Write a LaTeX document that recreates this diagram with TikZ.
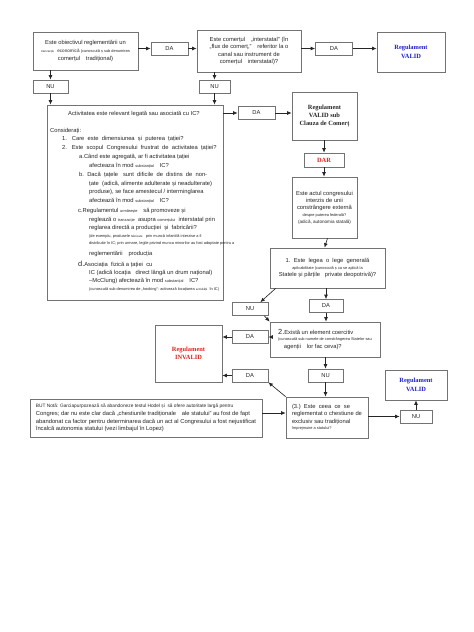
\documentclass[tikz,border=0pt]{standalone}
\usepackage{fontspec}
\setmainfont{Liberation Sans}
\newfontfamily\serifb{Liberation Serif}
\usetikzlibrary{arrows.meta}
\newcommand\smt{\fontsize{3.9}{4.8}\selectfont}
\newcommand\tnt{\fontsize{3}{3.8}\selectfont}
\definecolor{regblue}{RGB}{30,30,200}
\definecolor{regred}{RGB}{225,30,30}
\begin{document}
\begin{tikzpicture}[x=1pt,y=-1pt,
  base/.style={font=\fontsize{5.8}{8.8}\selectfont, text=black!85},
  box/.style={draw=black!55, line width=0.65pt, fill=white, inner sep=1pt, align=center, base},
  lbl/.style={box, minimum height=13pt},
  txt/.style={anchor=west, inner sep=0pt, base},
  regtxt/.style={box, font=\serifb\bfseries\fontsize{6.4}{8.4}\selectfont},
  arr/.style={-{Latex[length=4.5pt,width=3.8pt]}, line width=0.65pt, draw=black!85}]
\fill[white] (0,0) rectangle (474,632);
\useasboundingbox (0,0) rectangle (474,632);

% top row
\node[box, minimum width=105pt, minimum height=38pt] (A) at (85.5,51)
  {Este obiectivul reglementării un\\[-0.5pt]{\tnt tranzacție}\ \ {\fontsize{4.6}{6}\selectfont economică {\smt(cunoscută ș sub denumirea}}\\[-0.5pt]comerțul\quad tradițional)};
\node[lbl, minimum width=37pt] (DA1) at (169.5,48.5) {DA};
\node[box, minimum width=104pt, minimum height=42pt] (B) at (249,51)
  {Este comerțul\quad „interstatal” (în\\[-1.5pt]„flux de comerț,”\quad referitor la o\\[-1.5pt]canal sau instrument de\\[-1.5pt]comerțul\quad interstatal)?};
\node[lbl, minimum width=37pt] (DA2) at (334,48.5) {DA};
\node[regtxt, text=regblue, minimum width=68pt, minimum height=40pt] (RT) at (411,52) {Regulament\\VALID};
\node[lbl, minimum width=35pt] (NU1) at (50.5,86.5) {NU};
\node[lbl, minimum width=31pt] (NU2) at (214.5,86.5) {NU};

% big box
\node[box, minimum width=176pt, minimum height=195pt] (Big) at (135,202.5) {};
\node[txt] (L0) at (68,114) {Activitatea este relevant legată sau asociată cu IC?};
\node[txt] (L1) at (50,131) {Considerați:};
\node[txt] (L2) at (62,139.5) {1.\ \ \ Care\ \ este\ \ dimensiunea\ \ și\ \ puterea\ \ țației?};
\node[txt] (L3) at (62,148) {2.\ \ \ Este\ \ scopul\ \ Congresului\ \ frustrat\ \ de\ \ activitatea\ \ țației?};
\node[txt] (L4) at (79,157) {a.Când este agregată, ar fi activitatea țației};
\node[txt] (L5) at (89,165.5) {afecteaza în mod {\smt substanțial}\quad IC?};
\node[txt] (L6) at (79,175) {b.\ \ Dacă\ \ țațele\ \ \ sunt\ \ dificile\ \ de\ \ distins\ \ de\ \ non-};
\node[txt] (L7) at (89,183.5) {țate\ \ (adică, alimente adulterate și neadulterate)};
\node[txt] (L8) at (89,192) {produse), se face amestecul / interminglarea};
\node[txt] (L9) at (89,200.5) {afectează în mod {\smt substanțial}\quad IC?};
\node[txt] (L10) at (78,211) {c.Regulamentul {\smt urmărește}\quad să promoveze și};
\node[txt] (L11) at (89,219.5) {reglează o {\smt tranzacție}\ \ asupra {\smt comerțului}\ \ interstatal prin};
\node[txt] (L12) at (89,228) {reglarea directă a producției\ \ și\ \ fabricării?};
\node[txt] (L13) at (89,236) {\smt (de exemplu, produsele {\tnt fabricate}\ \ \ prin muncă infantilă interzise a fi};
\node[txt] (L14) at (89,243.5) {\smt distribuite în IC; prin urmare, legile privind munca minorilor au fost adoptate pentru a};
\node[txt] (L15) at (89,254) {reglementării\quad producția};
\node[txt] (L16) at (78,264) {{\fontsize{7.4}{8}\selectfont d.}Asociația\ \ fizică a țației\ \ cu};
\node[txt] (L17) at (89,273) {IC (adică locația\ \ \ direct lângă un drum național)};
\node[txt] (L18) at (89,281) {–McClung) afectează în mod {\smt substanțial}\quad IC?};
\node[txt] (L19) at (89,289) {\smt (cunoscută sub denumirea de „hooking”- activează locațiarea {\tnt activității}\ \ în IC)};

% right column
\node[lbl, minimum width=37pt] (DA3) at (256.5,113) {DA};
\node[regtxt, minimum width=65pt, minimum height=48pt] (RS) at (324.5,116) {Regulament\\VALID sub\\Clauza de Comerț};
\node[regtxt, text=regred, minimum width=40pt, minimum height=14pt] (DAR) at (324,160) {DAR};
\node[box, minimum width=65pt, minimum height=61pt] (AC) at (324.5,207.5)
  {Este actul congresului\\[-1.5pt]interzis de unii\\[-1.5pt]constrângere externă\\[-2pt]{\smt despre puterea federală?}\\[-2pt]{\fontsize{4.6}{6}\selectfont(adică, autonomia statală)}};
\node[box, minimum width=115pt, minimum height=40pt] (B1) at (327.5,268)
  {1.\ \ Este\ \ legea\ \ o\ \ lege\ \ generală\\[-2pt]{\smt aplicabilitate (cunoscută ș ca se aplică la}\\[-1pt]Statele și părțile\ \ \ private deopotrivă)?};
\node[lbl, minimum width=34pt] (DA4) at (326,306) {DA};
\node[lbl, minimum width=36pt] (NU3) at (250,309) {NU};
\node[box, minimum width=110pt, minimum height=35pt, align=left] (B2) at (325,339.5)
  {{\fontsize{7.4}{8}\selectfont 2.}Există un element coercitiv\\[-2pt]{\smt (cunoscută sub numele de constrângerea Statelor sau}\\[-1pt]\quad agenții\quad lor fac ceva)?};
\node[lbl, minimum width=36pt] (DA5) at (250,337) {DA};
\node[regtxt, text=regred, minimum width=67pt, minimum height=57pt] (RI) at (188.5,353.5) {Regulament\\INVALID};
\node[lbl, minimum width=36pt] (DA6) at (250,375.5) {DA};
\node[lbl, minimum width=35pt] (NU4) at (325.5,375.5) {NU};
\node[box, minimum width=82pt, minimum height=41pt, align=left] (B3) at (327,417.5)
  {(3.)\ \ Este\ \ ceea\ \ ce\ \ se\\[-1.5pt]reglementat o chestiune de\\[-1.5pt]exclusiv sau tradițional\\[-2pt]{\smt împrejmuire a statului?}};
\node[lbl, minimum width=32pt] (NU5) at (416,416.5) {NU};
\node[regtxt, text=regblue, minimum width=62pt, minimum height=30pt] (RB) at (416,385) {Regulament\\VALID};
\node[box, minimum width=232pt, minimum height=38pt, align=left] (BUT) at (146,418)
  {{\fontsize{4.8}{6}\selectfont BUT Notă: Garciapurpozează să abandoneze testul Hodel și\ \ să ofere autoritate largă pentru}\\[-1pt]Congres; dar nu este clar dacă „chestiunile tradiționale\quad ale statului” au fost de fapt\\[-1.5pt]abandonat ca factor pentru determinarea dacă un act al Congresului a fost nejustificat\\[-1.5pt]încalcă autonomia statului (vezi limbajul în Lopez)};

% connectors
\draw[arr] (A.east |- DA1.west) -- (DA1.west);
\draw[arr] (DA1.east) -- (B.west |- DA1.east);
\draw[arr] (B.east |- DA2.west) -- (DA2.west);
\draw[arr] (DA2.east) -- (RT.west |- DA2.east);
\draw[arr] (A.south -| NU1.north) -- (NU1.north);
\draw[arr] (NU1.south) -- (NU1.south |- Big.north);
\draw[arr] (B.south -| NU2.north) -- (NU2.north);
\draw[arr] (NU2.south) -- (NU2.south |- Big.north);
\draw[arr] (Big.east |- DA3.west) -- (DA3.west);
\draw[arr] (DA3.east) -- (RS.west |- DA3.east);
\draw[arr] (RS.south -| DAR.north) -- (DAR.north);
\draw[arr] (DAR.south) -- (DAR.south |- AC.north);
\draw[arr] (AC.south -| B1.north) -- (B1.north -| AC.south);
\draw[arr] (B1.south -| DA4.north) -- (DA4.north);
\draw[arr] (DA4.south) -- (DA4.south |- B2.north);
\draw[arr] ([xshift=6pt]B1.south west) -- ([xshift=-8pt]NU3.north east);
\draw[arr] ([xshift=-4pt]NU3.south east) -- (B2.north west);
\draw[arr] (B2.west |- DA5.east) -- (DA5.east);
\draw[arr] (DA5.west) -- (RI.east |- DA5.west);
\draw[arr] (B2.south -| NU4.north) -- (NU4.north);
\draw[arr] (NU4.south) -- (NU4.south |- B3.north);
\draw[arr] (B3.north west) -- (DA6.south east);
\draw[arr] (DA6.west) -- (RI.east |- DA6.west);
\draw[arr] (BUT.east |- 0,413) coordinate (butout) -- (B3.west |- butout);
\draw[arr] (B3.east |- NU5.west) -- (NU5.west);
\draw[arr] (NU5.north) -- (RB.south -| NU5.north);
\end{tikzpicture}
\end{document}
